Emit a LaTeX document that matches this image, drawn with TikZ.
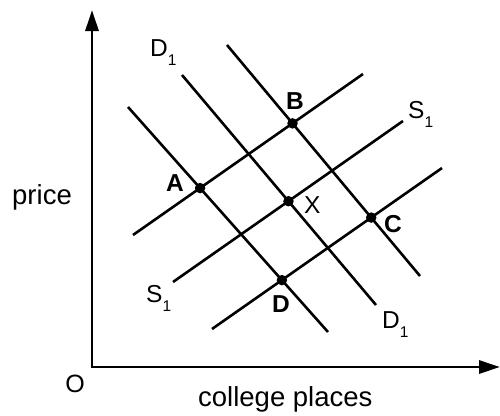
\documentclass[tikz,border=0pt]{standalone}
\usepackage{fontspec}
\setmainfont{Liberation Sans}
\usetikzlibrary{arrows.meta}
\newcommand\subone{\raisebox{-9pt}{\fontsize{15.5}{15.5}\selectfont 1}}
\begin{document}
\begin{tikzpicture}[x=1pt,y=-1pt,
  curve/.style={line width=2.6pt},
  axis/.style={line width=2.9pt,-{Triangle[length=21pt,width=13pt]}},
  dot/.style={circle,fill=black,inner sep=0pt,minimum size=10.5pt},
  lbl/.style={anchor=base west,inner sep=0pt,font=\fontsize{24.5}{29}\selectfont},
  blbl/.style={anchor=base west,inner sep=0pt,font=\fontsize{24.5}{29}\selectfont\bfseries},
  big/.style={anchor=base west,inner sep=0pt,font=\fontsize{27.5}{32}\selectfont}]
\useasboundingbox (0,0) rectangle (500,415);
% axes
\coordinate (orig) at (92,367);
\coordinate (ytop) at (92,10);
\coordinate (xend) at (500,367);
\draw[axis] (orig) -- (ytop);
\draw[axis] ([xshift=-1.45pt]orig) -- (xend);
% supply lines
\coordinate (sta) at (133,235); \coordinate (stb) at (363,74);
\coordinate (sma) at (173,282); \coordinate (smb) at (403,121);
\coordinate (sba) at (212,329); \coordinate (sbb) at (442,168);
% demand lines
\coordinate (dla) at (128,107); \coordinate (dlb) at (328,332);
\coordinate (dma) at (182,75);  \coordinate (dmb) at (376,305);
\coordinate (dra) at (227,45);  \coordinate (drb) at (420,276);
\draw[curve] (sta) -- (stb);
\draw[curve] (sma) -- (smb);
\draw[curve] (sba) -- (sbb);
\draw[curve] (dla) -- (dlb);
\draw[curve] (dma) -- (dmb);
\draw[curve] (dra) -- (drb);
% points
\node[dot] (A) at (intersection of sta--stb and dla--dlb) {};
\node[dot] (B) at (intersection of sta--stb and dra--drb) {};
\node[dot] (X) at (intersection of sma--smb and dma--dmb) {};
\node[dot] (C) at (intersection of sba--sbb and dra--drb) {};
\node[dot] (D) at (intersection of sba--sbb and dla--dlb) {};
% labels
\node[blbl] (lA) at (166,191) {A};
\node[blbl] (lB) at (286,109) {B};
\node[blbl] (lC) at (384,232) {C};
\node[blbl] (lD) at (272,312) {D};
\node[lbl] (lX) at (304,213) {X};
\node[lbl] (d1top) at (150,56.5) {D\subone};
\node[lbl] (d1bot) at (382,328) {D\subone};
\node[lbl] (s1top) at (408,118) {S\subone};
\node[lbl] (s1bot) at (146,302) {S\subone};
\node[big] (price) at (12,204) {price};
\node[anchor=base,inner sep=0pt,font=\fontsize{25}{30}\selectfont] (O) at (75,392) {O};
\node[big] (qty) at (198,406) {college places};
\end{tikzpicture}
\end{document}
